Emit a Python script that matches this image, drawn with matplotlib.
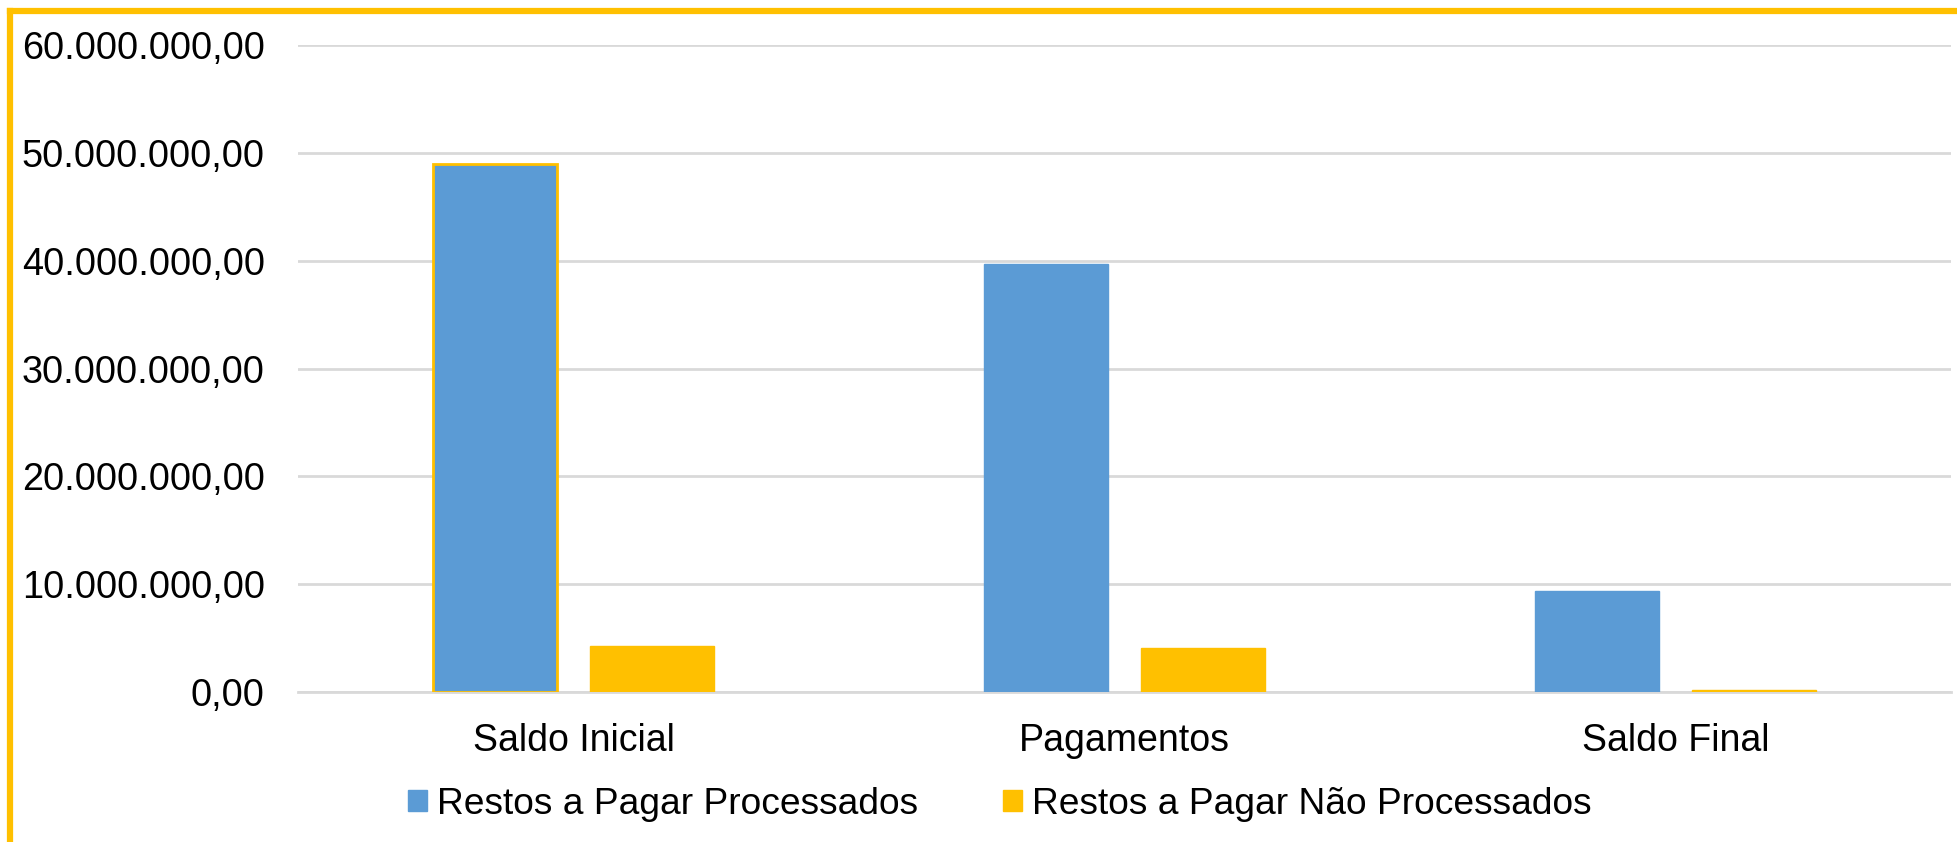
import matplotlib
matplotlib.use("Agg")
import matplotlib.pyplot as plt
import numpy as np
from matplotlib.ticker import FuncFormatter, MultipleLocator
from matplotlib.lines import Line2D

categories = ["Saldo Inicial", "Pagamentos", "Saldo Final"]
processados = [49_000_000, 39_650_000, 9_350_000]
nao_processados = [4_220_000, 4_050_000, 170_000]
series_names = ["Restos a Pagar Processados", "Restos a Pagar Não Processados"]

BLUE = "#5B9BD5"
YELLOW = "#FFC000"
GRID = "#D9D9D9"

plt.rcParams['font.family'] = ['Liberation Sans', 'DejaVu Sans']

W, H = 1957, 842
fig = plt.figure(figsize=(W / 100, H / 100), dpi=100)
ax = fig.add_axes([298 / W, 1 - 692 / H, (1951 - 298) / W, (692 - 45) / H])

x = np.arange(len(categories))
bw = 0.225
off = 0.1425
b1 = ax.bar(x - off, processados, bw, color=BLUE, edgecolor=BLUE, linewidth=1, zorder=3,
            label=series_names[0])
b1[0].set_edgecolor(YELLOW)
b1[0].set_linewidth(2)
b2 = ax.bar(x + off, nao_processados, bw, color=YELLOW, edgecolor=YELLOW, linewidth=1, zorder=3,
            label=series_names[1])

ax.set_xlim(-0.5, 2.5)
ax.set_ylim(0, 60_000_000)
ax.yaxis.set_major_locator(MultipleLocator(10_000_000))


def fmt(v, pos):
    s = "{:,.2f}".format(v)
    return s.replace(",", "X").replace(".", ",").replace("X", ".")


ax.yaxis.set_major_formatter(FuncFormatter(fmt))
ax.set_xticks(x)
ax.set_xticklabels(categories)
ax.tick_params(axis='both', length=0, colors='black')
ax.tick_params(axis='y', pad=24, labelsize=27.3)
ax.tick_params(axis='x', pad=22, labelsize=27)
ax.grid(axis='y', color=GRID, linewidth=2, zorder=0)
ax.set_axisbelow(True)
for s in ["top", "right", "left"]:
    ax.spines[s].set_visible(False)
ax.spines["bottom"].set_color(GRID)
ax.spines["bottom"].set_linewidth(2)

handles = [plt.Rectangle((0, 0), 1, 1, color=BLUE), plt.Rectangle((0, 0), 1, 1, color=YELLOW)]
fig.legend(handles, series_names, loc="center", bbox_to_anchor=(1000 / W, 1 - 804 / H),
           ncol=2, frameon=False, fontsize=26.7, handlelength=0.5, handleheight=0.5,
           handletextpad=0.28, columnspacing=2.3)

# chart frame (yellow border on top and left)
fig.add_artist(Line2D([10 / W, 10 / W], [0, 1 - 11 / H], color=YELLOW, linewidth=4.5,
                      transform=fig.transFigure, solid_capstyle='projecting'))
fig.add_artist(Line2D([10 / W, 1], [1 - 11 / H, 1 - 11 / H], color=YELLOW, linewidth=4.5,
                      transform=fig.transFigure, solid_capstyle='projecting'))

fig.savefig("out.png", dpi=100, facecolor="white")
